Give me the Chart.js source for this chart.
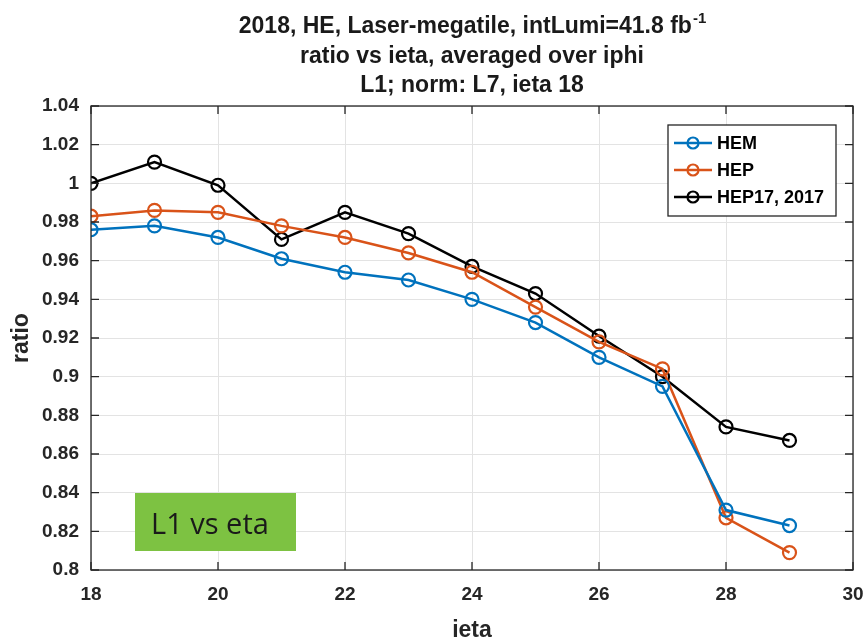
<!DOCTYPE html>
<html>
<head>
<meta charset="utf-8">
<script src="https://cdn.jsdelivr.net/npm/chart.js@4"></script>
<style>
  html, body { margin: 0; padding: 0; background: #fff; }
  #wrap { width: 868px; height: 642px; }
</style>
</head>
<body>
<div id="wrap"><canvas id="ratioChart" width="868" height="642"></canvas></div>
<script>
// ieta bins and per-layer ratio, averaged over iphi
const ieta = [18, 19, 20, 21, 22, 23, 24, 25, 26, 27, 28, 29];
const hem = [0.976, 0.978, 0.972, 0.961, 0.954, 0.950, 0.940, 0.928, 0.910, 0.895, 0.831, 0.823];
const hep = [0.983, 0.986, 0.985, 0.978, 0.972, 0.964, 0.954, 0.936, 0.918, 0.904, 0.827, 0.809];
const hep17 = [1.000, 1.011, 0.999, 0.971, 0.985, 0.974, 0.957, 0.943, 0.921, 0.900, 0.874, 0.867];

const xTicks = [18, 20, 22, 24, 26, 28, 30];
const yTicks = [0.8, 0.82, 0.84, 0.86, 0.88, 0.9, 0.92, 0.94, 0.96, 0.98, 1, 1.02, 1.04];
const yTickLabels = ['0.8', '0.82', '0.84', '0.86', '0.88', '0.9', '0.92', '0.94', '0.96', '0.98', '1', '1.02', '1.04'];

const seriesNames = ['HEM', 'HEP', 'HEP17, 2017'];
const seriesColors = ['#0072BD', '#D95319', '#000000'];

const titleLines = ['2018, HE, Laser-megatile, intLumi=41.8 fb', 'ratio vs ieta, averaged over iphi', 'L1; norm: L7, ieta 18'];
const noteText = 'L1 vs eta';

const FONT = '"Liberation Sans", Arial, sans-serif';
const AXIS_COLOR = '#262626';

function toPoints(ys) {
    return ys.map((y, i) => ({ x: ieta[i], y: y }));
}

function makeSet(name, ys, color) {
    return {
        label: name,
        data: toPoints(ys),
        borderColor: color,
        borderWidth: 2.5,
        pointStyle: 'circle',
        pointRadius: 6.5,
        pointBorderWidth: 2.2,
        pointBorderColor: color,
        pointBackgroundColor: 'rgba(0,0,0,0)',
        fill: false,
        tension: 0
    };
}

// title, box frame, inward ticks, legend and the green note
const decorations = {
    id: 'decorations',
    afterDraw(chart) {
        const ctx = chart.ctx;
        const a = chart.chartArea;
        const xs = chart.scales.x, ys = chart.scales.y;
        ctx.save();

        // frame and inward ticks on all four sides
        ctx.strokeStyle = AXIS_COLOR;
        ctx.lineWidth = 1.3;
        ctx.strokeRect(a.left, a.top, a.right - a.left, a.bottom - a.top);
        ctx.beginPath();
        xTicks.forEach(v => {
            const px = xs.getPixelForValue(v);
            ctx.moveTo(px, a.bottom); ctx.lineTo(px, a.bottom - 8);
            ctx.moveTo(px, a.top); ctx.lineTo(px, a.top + 8);
        });
        yTicks.forEach(v => {
            const py = ys.getPixelForValue(v);
            ctx.moveTo(a.left, py); ctx.lineTo(a.left + 8, py);
            ctx.moveTo(a.right, py); ctx.lineTo(a.right - 8, py);
        });
        ctx.stroke();

        // three-line title, superscript on the first line
        const cx = (a.left + a.right) / 2;
        ctx.fillStyle = '#1a1a1a';
        ctx.textBaseline = 'alphabetic';
        ctx.font = 'bold 23px ' + FONT;
        const sup = '-1';
        const w0 = ctx.measureText(titleLines[0]).width;
        ctx.font = 'bold 15px ' + FONT;
        const ws = ctx.measureText(sup).width;
        ctx.font = 'bold 23px ' + FONT;
        const x0 = cx - (w0 + ws) / 2;
        ctx.textAlign = 'left';
        ctx.fillText(titleLines[0], x0, 33);
        ctx.font = 'bold 15px ' + FONT;
        ctx.fillText(sup, x0 + w0 + 1, 23);
        ctx.font = 'bold 23px ' + FONT;
        ctx.textAlign = 'center';
        ctx.fillText(titleLines[1], cx, 63);
        ctx.fillText(titleLines[2], cx, 92);

        // legend
        const lx = 668, ly = 125, lw = 168, lh = 91;
        ctx.fillStyle = '#fff';
        ctx.fillRect(lx, ly, lw, lh);
        ctx.strokeStyle = '#262626';
        ctx.lineWidth = 1.3;
        ctx.strokeRect(lx, ly, lw, lh);
        ctx.font = 'bold 18px ' + FONT;
        ctx.textAlign = 'left';
        ctx.textBaseline = 'middle';
        seriesNames.forEach((name, i) => {
            const y = ly + 18 + i * 27;
            ctx.strokeStyle = seriesColors[i];
            ctx.lineWidth = 2.5;
            ctx.beginPath();
            ctx.moveTo(lx + 6, y); ctx.lineTo(lx + 44, y);
            ctx.stroke();
            ctx.lineWidth = 2.2;
            ctx.beginPath();
            ctx.arc(lx + 25, y, 5.5, 0, Math.PI * 2);
            ctx.stroke();
            ctx.fillStyle = '#000';
            ctx.fillText(name, lx + 49, y + 1);
        });

        // green note box
        ctx.fillStyle = '#7DC242';
        ctx.fillRect(135, 493, 161, 58);
        ctx.fillStyle = '#1a1a1a';
        ctx.font = '29px "Open Sans", ' + FONT;
        ctx.textAlign = 'left';
        ctx.textBaseline = 'alphabetic';
        ctx.fillText(noteText, 151, 534);

        ctx.restore();
    }
};

new Chart(document.getElementById('ratioChart'), {
    type: 'line',
    data: {
        datasets: [
            makeSet(seriesNames[0], hem, seriesColors[0]),
            makeSet(seriesNames[1], hep, seriesColors[1]),
            makeSet(seriesNames[2], hep17, seriesColors[2])
        ]
    },
    options: {
        responsive: false,
        animation: false,
        layout: { padding: { top: 106, right: 15, left: 0, bottom: 0 } },
        plugins: {
            legend: { display: false },
            title: { display: false },
            tooltip: { enabled: false }
        },
        scales: {
            x: {
                type: 'linear',
                min: 18,
                max: 30,
                afterFit(scale) {
                    scale.height = 72;
                    scale.paddingLeft = 0;
                    scale.paddingRight = 0;
                },
                afterBuildTicks(scale) { scale.ticks = xTicks.map(v => ({ value: v })); },
                grid: { color: '#e3e3e3', lineWidth: 1, tickLength: 0, drawTicks: false },
                border: { display: false },
                ticks: {
                    padding: 13,
                    color: AXIS_COLOR,
                    font: { family: FONT, size: 19, weight: 'bold' },
                    maxRotation: 0,
                    callback: v => String(v)
                },
                title: {
                    display: true,
                    text: 'ieta',
                    color: AXIS_COLOR,
                    font: { family: FONT, size: 23, weight: 'bold', lineHeight: 1.0 },
                    padding: { top: 0, bottom: 0 }
                }
            },
            y: {
                type: 'linear',
                min: 0.8,
                max: 1.04,
                afterFit(scale) {
                    scale.width = 91;
                    scale.paddingTop = 0;
                    scale.paddingBottom = 0;
                },
                afterBuildTicks(scale) { scale.ticks = yTicks.map(v => ({ value: v })); },
                grid: { color: '#e3e3e3', lineWidth: 1, tickLength: 0, drawTicks: false },
                border: { display: false },
                ticks: {
                    padding: 12,
                    color: AXIS_COLOR,
                    font: { family: FONT, size: 19, weight: 'bold' },
                    callback: (v, i) => yTickLabels[i]
                },
                title: {
                    display: true,
                    text: 'ratio',
                    color: AXIS_COLOR,
                    font: { family: FONT, size: 23, weight: 'bold', lineHeight: 1.2 },
                    padding: { top: 8, bottom: 0 }
                }
            }
        }
    },
    plugins: [decorations]
});
</script>
</body>
</html>
